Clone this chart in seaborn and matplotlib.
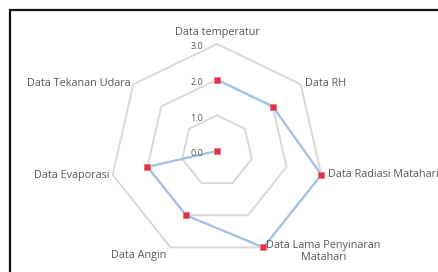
import numpy as np
import pandas as pd
import matplotlib
matplotlib.use("Agg")
import matplotlib.pyplot as plt
import seaborn as sns
from matplotlib.patches import Rectangle

categories = ["Data temperatur", "Data RH", "Data Radiasi Matahari",
              "Data Lama Penyinaran\nMatahari", "Data Angin", "Data Evaporasi",
              "Data Tekanan Udara"]
values = [2.0, 2.0, 3.0, 3.0, 2.0, 2.0, 0.0]
ticks = [0.0, 1.0, 2.0, 3.0]
tick_labels = ["0.0", "1.0", "2.0", "3.0"]

sns.set_style("white")
plt.rcParams['font.family'] = ['Open Sans', 'DejaVu Sans']

W, H = 439, 272
fig = plt.figure(figsize=(W / 100, H / 100), dpi=100)

cx, cy, R = 217, 151, 107
ax = fig.add_axes([(cx - R) / W, (H - cy - R) / H, 2 * R / W, 2 * R / H], projection='polar')
ax.set_theta_zero_location('N')
ax.set_theta_direction(-1)
ax.set_ylim(0, 3)
ax.axis('off')

n = len(categories)
theta = np.arange(n) * 2 * np.pi / n
theta_c = np.append(theta, theta[0])

# heptagon gridlines
for t in ticks[1:]:
    ax.plot(theta_c, [t] * (n + 1), color='#d9d9d9', lw=1.4, zorder=1, clip_on=False)

df = pd.DataFrame({"theta": theta_c, "value": values + [values[0]]})
sns.lineplot(data=df, x="theta", y="value", ax=ax, sort=False, color='#a3c4e6',
             lw=1.7, zorder=2, clip_on=False)
sns.scatterplot(data=df.iloc[:-1], x="theta", y="value", ax=ax, marker='s', s=14,
                color='#d9344a', edgecolor='#f07080', linewidth=0.6, zorder=3, clip_on=False)
ax.set_xlabel("")
ax.set_ylabel("")
ax.set_ylim(0, 3)

# tick labels along top axis
for t, lab in zip(ticks, tick_labels):
    ax.annotate(lab, xy=(0, t), xytext=(-10, -2), textcoords='offset points',
                ha='right', va='center', fontsize=6.5, color='#595959')

# category labels (offsets in pixels -> points)
offs = [(0, 11, 'center'), (4, 1, 'left'), (7, 0, 'left'), (3, -4, 'left'),
        (-4, -8, 'right'), (-3, -1, 'right'), (-3, 1, 'right')]
for th, lab, (dx, dy, ha) in zip(theta, categories, offs):
    ax.annotate(lab, xy=(th, 3), xytext=(dx * 0.72, dy * 0.72), textcoords='offset points',
                ha=ha, va='center', multialignment='center', fontsize=7.8,
                color='#595959', annotation_clip=False)

# frame (top and left visible, rest clipped)
fig.patches.append(Rectangle((10 / W, -0.1), 1.2, 1 - 10 / H + 0.1, transform=fig.transFigure,
                             fill=False, edgecolor='#111111', lw=1.6))

fig.savefig("out.png", dpi=100)
